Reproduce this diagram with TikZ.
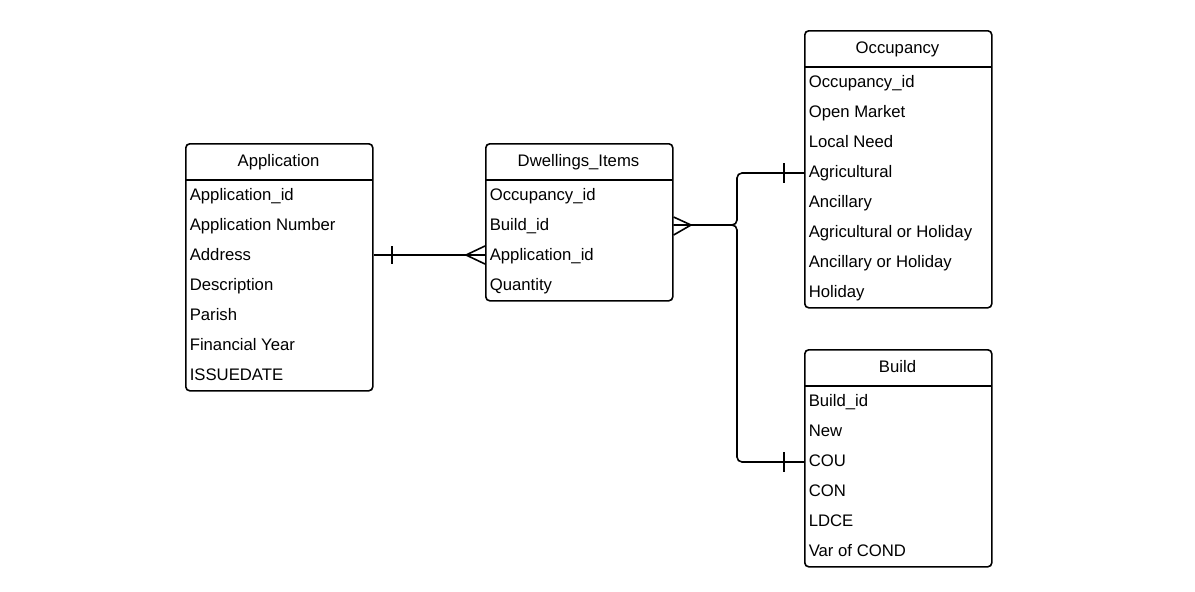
\documentclass[tikz,border=0pt]{standalone}
\usepackage{fontspec}
\setmainfont{Liberation Sans}
\begin{document}
\begin{tikzpicture}[x=1pt,y=-1pt, line width=1.6pt,
  tbl/.style={draw, rounded corners=4pt, minimum width=187pt, inner sep=0pt, anchor=north west},
  hdr/.style={font=\fontsize{16.7}{20}\selectfont, anchor=base, inner sep=0pt},
  fld/.style={font=\fontsize{16.7}{20}\selectfont, anchor=base west, inner sep=0pt},
  conn/.style={rounded corners=5pt}]
\useasboundingbox (1,0) rectangle (1196,592);
% Application
\node[tbl, minimum height=247pt] (app) at (186,143) {};
\node[hdr] (apph) at (279.5,166) {Application};
\draw (186,180) -- (373,180);
\foreach \t [count=\i] in {Application\_id,Application Number,Address,Description,Parish,Financial Year,ISSUEDATE}
  \node[fld] (app\i) at (190,170+30*\i) {\t};
% Dwellings_Items
\node[tbl, minimum height=157pt] (dw) at (486,143) {};
\node[hdr] (dwh) at (579.5,166) {Dwellings\_Items};
\draw (486,180) -- (673,180);
\foreach \t [count=\i] in {Occupancy\_id,Build\_id,Application\_id,Quantity}
  \node[fld] (dw\i) at (490,170+30*\i) {\t};
% Occupancy
\node[tbl, minimum height=277pt] (occ) at (805,30) {};
\node[hdr] (occh) at (898.5,53) {Occupancy};
\draw (805,67) -- (992,67);
\foreach \t [count=\i] in {Occupancy\_id,Open Market,Local Need,Agricultural,Ancillary,Agricultural or Holiday,Ancillary or Holiday,Holiday}
  \node[fld] (occ\i) at (809,57+30*\i) {\t};
% Build
\node[tbl, minimum height=217pt] (bld) at (805,349) {};
\node[hdr] (bldh) at (898.5,372) {Build};
\draw (805,386) -- (992,386);
\foreach \t [count=\i] in {Build\_id,New,COU,CON,LDCE,Var of COND}
  \node[fld] (bld\i) at (809,376+30*\i) {\t};
% Application -- Dwellings_Items
\draw (app.east |- 0,255) -- (dw.west |- 0,255);
\draw (dw.west |- 0,246) -- (467,255) -- (dw.west |- 0,264);
\draw (393,246) -- (393,264);
% Dwellings_Items -- Occupancy / Build
\draw[conn] (dw.east |- 0,225) -- (738,225) |- (occ.west |- 0,173);
\draw[conn] (dw.east |- 0,225) -- (738,225) |- (bld.west |- 0,462);
\draw (dw.east |- 0,217) -- (692,225) -- (dw.east |- 0,235);
\draw (785,163) -- (785,183);
\draw (785,452) -- (785,472);
\end{tikzpicture}
\end{document}
